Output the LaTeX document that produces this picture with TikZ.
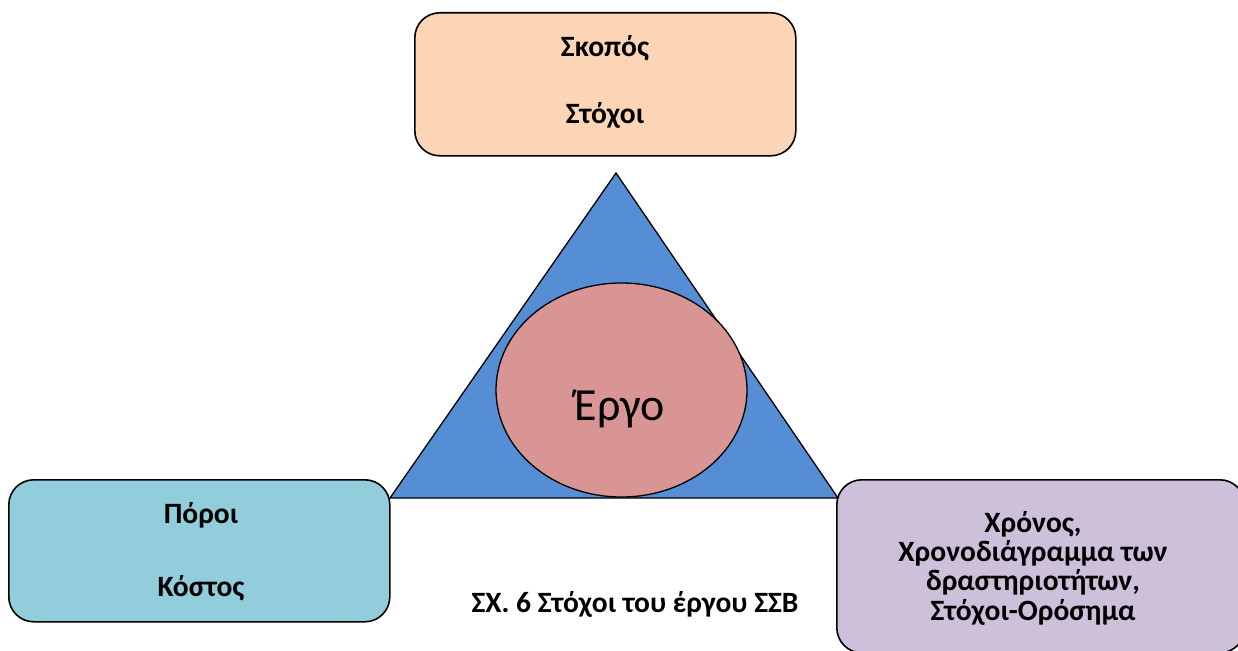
\documentclass[tikz,border=0pt]{standalone}
\usepackage{fontspec}
\setmainfont{Carlito}
\usetikzlibrary{shapes.geometric}
\definecolor{peach}{HTML}{FBD5B5}
\definecolor{lblue}{HTML}{92CDDC}
\definecolor{lilac}{HTML}{CCC0DA}
\definecolor{tri}{HTML}{558ED5}
\definecolor{rose}{HTML}{D99594}
\begin{document}
\begin{tikzpicture}[x=1pt,y=-1pt,
  box/.style={draw=black, line width=1.6pt, rounded corners=25pt, inner sep=0pt, anchor=north west},
  lbl/.style={font=\fontsize{29.5}{29.3}\selectfont\bfseries, anchor=base, inner sep=0pt},
]
\useasboundingbox (0,0) rectangle (1238,650);
% triangle
\coordinate (apex) at (616,173);
\coordinate (bl) at (390,498);
\coordinate (br) at (838,498);
\draw[fill=tri, line width=1.3pt, line join=miter] (apex) -- (br) -- (bl) -- cycle;
% ellipse
\node[ellipse, draw=black, line width=1.3pt, fill=rose, minimum width=251pt, minimum height=214pt, inner sep=0pt] (ergo) at (621.5,390) {};
\node[font=\fontsize{46}{52}\selectfont, anchor=base, inner sep=0pt] (ergot) at (620,420) {Έργο};
% boxes
\node[box, fill=peach, minimum width=381pt, minimum height=143pt] (top) at (414,12) {};
\node[box, fill=lblue, minimum width=381pt, minimum height=142pt] (left) at (8,479) {};
\node[box, fill=lilac, minimum width=408pt, minimum height=173pt] (right) at (836,479) {};
% labels
\node[lbl] (t1) at (605,57) {Σκοπός};
\node[lbl] (t2) at (605,124) {Στόχοι};
\node[lbl] (l1) at (201,523) {Πόροι};
\node[lbl] (l2) at (201,596) {Κόστος};
\node[lbl] (r1) at (1033,532) {Χρόνος,};
\node[lbl] (r2) at (1033,561.3) {Χρονοδιάγραμμα των};
\node[lbl] (r3) at (1033,590.6) {δραστηριοτήτων,};
\node[lbl] (r4) at (1033,620) {Στόχοι-Ορόσημα};
\node[lbl] (cap) at (635,612) {ΣΧ. 6 Στόχοι του έργου ΣΣΒ};
\end{tikzpicture}
\end{document}
